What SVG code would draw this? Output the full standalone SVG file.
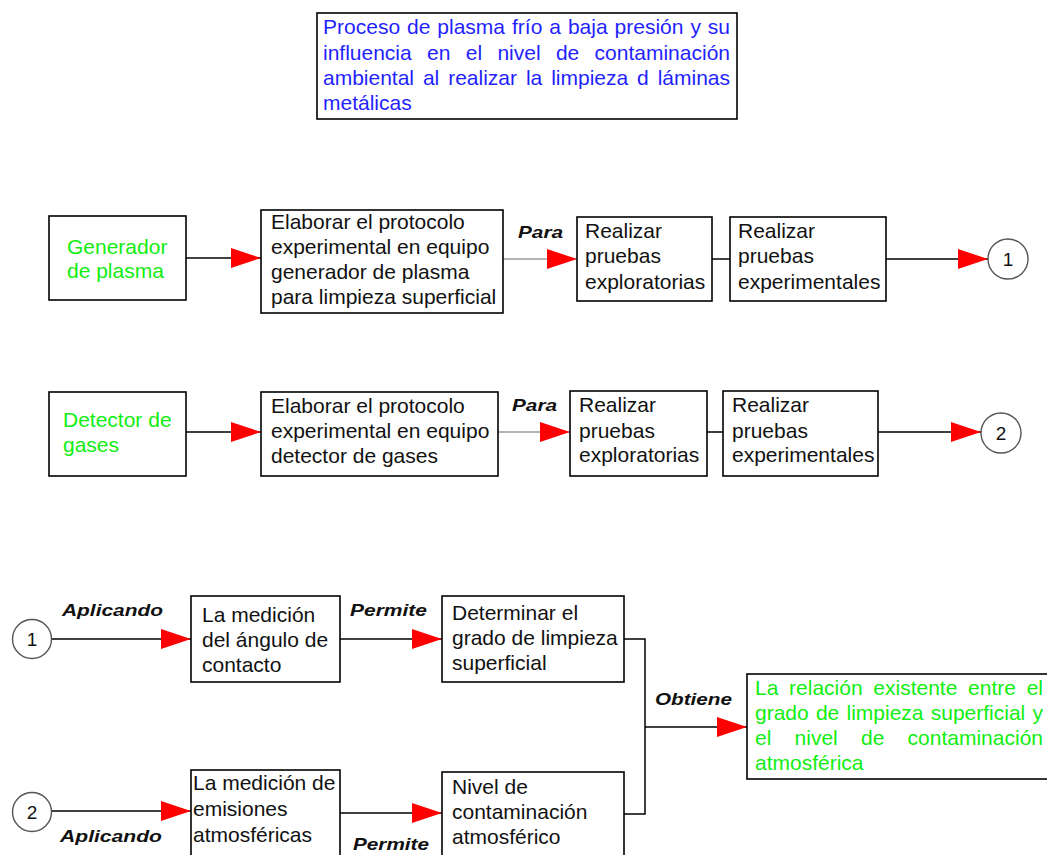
<svg xmlns="http://www.w3.org/2000/svg" width="1047" height="855" viewBox="0 0 1047 855">
<style>
.box{fill:#fff;stroke:#000;stroke-width:1.6}
.t{font-family:"Liberation Sans",Arial,sans-serif;font-size:21px;fill:#111}
.title{font-family:"Liberation Sans",Arial,sans-serif;font-size:21px;fill:#1f1fff}
.green{font-family:"Liberation Sans",Arial,sans-serif;font-size:21px;fill:#11ee11}
.lbl{font-family:"Liberation Sans",Arial,sans-serif;font-size:17px;font-weight:bold;font-style:italic;fill:#111}
.ln{fill:none;stroke:#000;stroke-width:1.5}
.gray{fill:none;stroke:#b4b4b4;stroke-width:2.2}
.circ{fill:#fff;stroke:#555;stroke-width:1.4}
.num{font-family:"Liberation Sans",Arial,sans-serif;font-size:19px;fill:#111;text-anchor:middle}
</style>
<defs>
<marker id="ah" markerUnits="userSpaceOnUse" markerWidth="30" markerHeight="20" refX="30" refY="10" orient="auto" viewBox="0 0 30 20">
<path d="M0,0 L30,10 L0,20 Z" fill="#ff0000"/>
</marker>
</defs>
<rect width="1047" height="855" fill="#fff"/>

<g id="title">
<rect class="box" x="317" y="13" width="420" height="106" stroke-width="2"/>
<text class="title" x="323" y="34" word-spacing="1.1" textLength="407">Proceso de plasma frío a baja presión y su</text>
<text class="title" x="323" y="60" word-spacing="9.5" textLength="407">influencia en el nivel de contaminación</text>
<text class="title" x="323" y="85" word-spacing="3.1" textLength="407">ambiental al realizar la limpieza d láminas</text>
<text class="title" x="323" y="110">metálicas</text>
</g>

<g id="connectors">
<path class="ln" d="M186,258 H261" marker-end="url(#ah)"/>
<path class="gray" d="M503,259 H577" marker-end="url(#ah)"/>
<path class="ln" d="M712,259 H730"/>
<path class="ln" d="M886,259 H988" marker-end="url(#ah)"/>
<path class="ln" d="M186,432 H261" marker-end="url(#ah)"/>
<path class="gray" d="M498,432 H570" marker-end="url(#ah)"/>
<path class="ln" d="M707,432 H723"/>
<path class="ln" d="M878,432 H981" marker-end="url(#ah)"/>
<path class="ln" d="M52,639 H191" marker-end="url(#ah)"/>
<path class="ln" d="M340,639 H442" marker-end="url(#ah)"/>
<path class="ln" d="M52,811 H191" marker-end="url(#ah)"/>
<path class="ln" d="M340,813 H442" marker-end="url(#ah)"/>
<path class="ln" d="M624,639 H645 V814 H624"/>
<path class="ln" d="M645,727 H747" marker-end="url(#ah)"/>
<text class="lbl" x="518" y="238" textLength="45" lengthAdjust="spacingAndGlyphs">Para</text>
<text class="lbl" x="512" y="411" textLength="45" lengthAdjust="spacingAndGlyphs">Para</text>
<text class="lbl" x="62" y="616" textLength="101" lengthAdjust="spacingAndGlyphs">Aplicando</text>
<text class="lbl" x="350" y="616" textLength="77" lengthAdjust="spacingAndGlyphs">Permite</text>
<text class="lbl" x="60" y="842" textLength="102" lengthAdjust="spacingAndGlyphs">Aplicando</text>
<text class="lbl" x="353" y="850" textLength="76" lengthAdjust="spacingAndGlyphs">Permite</text>
<text class="lbl" x="655" y="705" textLength="77" lengthAdjust="spacingAndGlyphs">Obtiene</text>
</g>

<g id="n_generador">
<rect class="box" x="49" y="216" width="137" height="84"/>
<text class="green" x="67" y="254">Generador</text>
<text class="green" x="67" y="278">de plasma</text>
</g>
<g id="n_protocolo1">
<rect class="box" x="261" y="210" width="242" height="103"/>
<text class="t" x="271" y="229">Elaborar el protocolo</text>
<text class="t" x="271" y="254">experimental en equipo</text>
<text class="t" x="271" y="279">generador de plasma</text>
<text class="t" x="271" y="304">para limpieza superficial</text>
</g>
<g id="n_explor1">
<rect class="box" x="577" y="217" width="135" height="84"/>
<text class="t" x="585" y="238">Realizar</text>
<text class="t" x="585" y="263">pruebas</text>
<text class="t" x="585" y="289">exploratorias</text>
</g>
<g id="n_exper1">
<rect class="box" x="730" y="217" width="156" height="84"/>
<text class="t" x="738" y="238">Realizar</text>
<text class="t" x="738" y="263">pruebas</text>
<text class="t" x="738" y="289">experimentales</text>
</g>
<g id="c1_top">
<circle class="circ" cx="1008" cy="259" r="20"/>
<text class="num" x="1008" y="266">1</text>
</g>

<g id="n_detector">
<rect class="box" x="49" y="392" width="137" height="84"/>
<text class="green" x="63" y="427">Detector de</text>
<text class="green" x="63" y="452">gases</text>
</g>
<g id="n_protocolo2">
<rect class="box" x="261" y="392" width="237" height="84"/>
<text class="t" x="271" y="413">Elaborar el protocolo</text>
<text class="t" x="271" y="438">experimental en equipo</text>
<text class="t" x="271" y="463">detector de gases</text>
</g>
<g id="n_explor2">
<rect class="box" x="570" y="391" width="137" height="85"/>
<text class="t" x="579" y="412">Realizar</text>
<text class="t" x="579" y="438">pruebas</text>
<text class="t" x="579" y="462">exploratorias</text>
</g>
<g id="n_exper2">
<rect class="box" x="723" y="391" width="155" height="85"/>
<text class="t" x="732" y="412">Realizar</text>
<text class="t" x="732" y="438">pruebas</text>
<text class="t" x="732" y="462">experimentales</text>
</g>
<g id="c2_top">
<circle class="circ" cx="1001" cy="433" r="20"/>
<text class="num" x="1001" y="440">2</text>
</g>

<g id="c1_bottom">
<circle class="circ" cx="32" cy="639" r="19.5"/>
<text class="num" x="32" y="646">1</text>
</g>
<g id="n_angulo">
<rect class="box" x="191" y="596" width="149" height="86"/>
<text class="t" x="202" y="622">La medición</text>
<text class="t" x="202" y="647">del ángulo de</text>
<text class="t" x="202" y="672">contacto</text>
</g>
<g id="n_limpieza">
<rect class="box" x="442" y="596" width="182" height="86"/>
<text class="t" x="452" y="620">Determinar el</text>
<text class="t" x="452" y="645">grado de limpieza</text>
<text class="t" x="452" y="670">superficial</text>
</g>
<g id="c2_bottom">
<circle class="circ" cx="32" cy="812" r="19.5"/>
<text class="num" x="32" y="819">2</text>
</g>
<g id="n_emisiones">
<rect class="box" x="191" y="770" width="149" height="100"/>
<text class="t" x="193" y="790">La medición de</text>
<text class="t" x="193" y="816">emisiones</text>
<text class="t" x="193" y="842">atmosféricas</text>
</g>
<g id="n_nivel">
<rect class="box" x="442" y="772" width="182" height="100"/>
<text class="t" x="452" y="794">Nivel de</text>
<text class="t" x="452" y="819">contaminación</text>
<text class="t" x="452" y="844">atmosférico</text>
</g>
<g id="n_relacion">
<rect class="box" x="747" y="674" width="303" height="105"/>
<text class="green" x="755" y="695" word-spacing="4.9" textLength="288">La relación existente entre el</text>
<text class="green" x="755" y="720" word-spacing="1.4" textLength="288">grado de limpieza superficial y</text>
<text class="green" x="755" y="745" word-spacing="17.4" textLength="288">el nivel de contaminación</text>
<text class="green" x="755" y="770">atmosférica</text>
</g>
</svg>
